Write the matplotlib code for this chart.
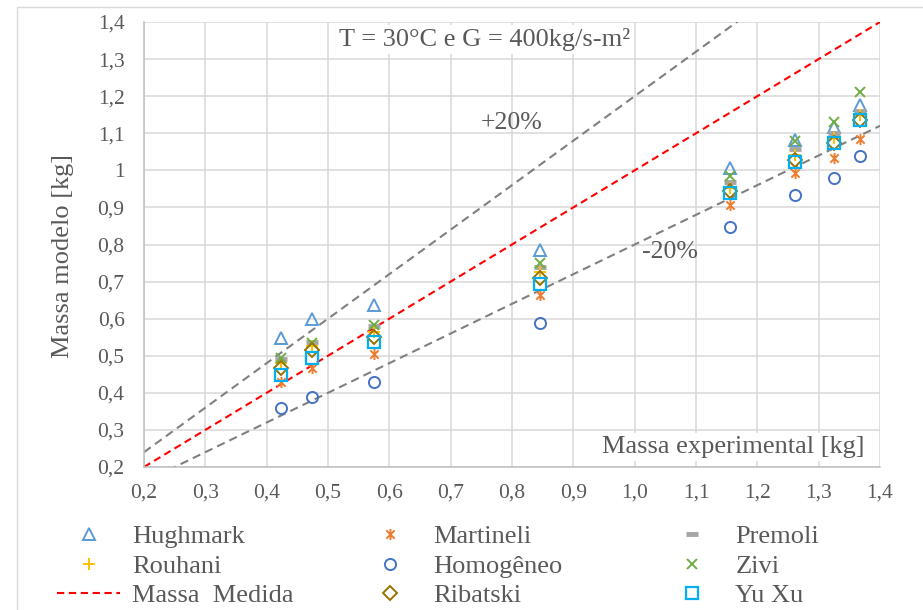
import matplotlib
matplotlib.use("Agg")
import matplotlib.pyplot as plt
from matplotlib.path import Path
from matplotlib.patches import Rectangle

# Measured (experimental) mass and the mass predicted by each void-fraction model [kg]
massa_exp = [0.423, 0.474, 0.575, 0.846, 1.155, 1.262, 1.325, 1.367]
hughmark = [0.548, 0.600, 0.638, 0.785, 1.006, 1.082, 1.118, 1.176]
martineli = [0.430, 0.468, 0.505, 0.664, 0.907, 0.992, 1.033, 1.085]
premoli = [0.492, 0.538, 0.580, 0.739, 0.969, 1.057, 1.102, 1.161]
rouhani = [0.480, 0.525, 0.565, 0.727, 0.952, 1.041, 1.086, 1.149]
homogeneo = [0.360, 0.390, 0.430, 0.588, 0.848, 0.934, 0.979, 1.040]
zivi = [0.494, 0.535, 0.582, 0.749, 0.985, 1.078, 1.131, 1.212]
ribatski = [0.468, 0.515, 0.550, 0.709, 0.943, 1.028, 1.075, 1.136]
yu_xu = [0.448, 0.495, 0.537, 0.693, 0.940, 1.023, 1.073, 1.136]

# Reference line y = x and the +/-20 % band
ref_x = [0.2, 1.4]
desvio = 0.20

xtick_vals = [0.2, 0.3, 0.4, 0.5, 0.6, 0.7, 0.8, 0.9, 1.0, 1.1, 1.2, 1.3, 1.4]
xtick_labels = ["0,2", "0,3", "0,4", "0,5", "0,6", "0,7", "0,8", "0,9", "1,0",
                "1,1", "1,2", "1,3", "1,4"]
ytick_vals = [0.2, 0.3, 0.4, 0.5, 0.6, 0.7, 0.8, 0.9, 1.0, 1.1, 1.2, 1.3, 1.4]
ytick_labels = ["0,2", "0,3", "0,4", "0,5", "0,6", "0,7", "0,8", "0,9", "1",
                "1,1", "1,2", "1,3", "1,4"]

plt.rcParams["font.family"] = ["Liberation Serif", "DejaVu Serif"]
TXT = "#595959"

fig = plt.figure(figsize=(9.23, 6.10), dpi=100)
ax = fig.add_axes([144 / 923, 1 - 467 / 610, 736 / 923, 445 / 610])

# Outer chart-area border
fig.patches.append(Rectangle((17 / 923, -0.1), 1.2, 1.1 - 7 / 610,
                             transform=fig.transFigure, fill=False,
                             edgecolor="#D9D9D9", lw=1.0, zorder=0))

# Asterisk marker: vertical stroke plus an X
ast = Path([(0, -1), (0, 1), (-0.75, -0.75), (0.75, 0.75), (-0.75, 0.75), (0.75, -0.75)],
           [Path.MOVETO, Path.LINETO, Path.MOVETO, Path.LINETO, Path.MOVETO, Path.LINETO])

mew = 1.4
h_hug, = ax.plot(massa_exp, hughmark, ls="none", marker="^", ms=8.5, mfc="none",
                 mec="#5B9BD5", mew=mew, label="Hughmark", zorder=3)
h_mar, = ax.plot(massa_exp, martineli, ls="none", marker=ast, ms=8, mfc="none",
                 mec="#ED7D31", mew=mew, label="Martineli", zorder=3)
h_pre, = ax.plot(massa_exp, premoli, ls="none", marker="_", ms=8, mec="#A5A5A5",
                 mew=3.5, label="Premoli", zorder=3)
h_rou, = ax.plot(massa_exp, rouhani, ls="none", marker="+", ms=8, mec="#FFC000",
                 mew=mew, label="Rouhani", zorder=3)
h_hom, = ax.plot(massa_exp, homogeneo, ls="none", marker="o", ms=8, mfc="none",
                 mec="#4472C4", mew=mew, label="Homogêneo", zorder=3)
h_ziv, = ax.plot(massa_exp, zivi, ls="none", marker="x", ms=7.5, mec="#70AD47",
                 mew=mew, label="Zivi", zorder=3)
h_rib, = ax.plot(massa_exp, ribatski, ls="none", marker="D", ms=7, mfc="none",
                 mec="#997300", mew=mew, label="Ribatski", zorder=3)
h_yux, = ax.plot(massa_exp, yu_xu, ls="none", marker="s", ms=9, mfc="none",
                 mec="#00B0F0", mew=1.6, label="Yu Xu", zorder=3)

ref_up = [v * (1 + desvio) for v in ref_x]
ref_dn = [v * (1 - desvio) for v in ref_x]
ax.plot(ref_x, ref_up, color="#808080", lw=1.5, dashes=(4, 2.5), zorder=2)
ax.plot(ref_x, ref_dn, color="#808080", lw=1.5, dashes=(4, 2.5), zorder=2)
h_ref, = ax.plot(ref_x, ref_x, color="#FF0000", lw=1.5, dashes=(3.5, 2.2),
                 label="Massa  Medida", zorder=2)

ax.set_xlim(0.2, 1.4)
ax.set_ylim(0.2, 1.4)
ax.set_xticks(xtick_vals)
ax.set_xticklabels(xtick_labels)
ax.set_yticks(ytick_vals)
ax.set_yticklabels(ytick_labels)
ax.tick_params(length=0, labelsize=15.5, labelcolor=TXT)
ax.tick_params(axis="y", pad=14)
ax.tick_params(axis="x", pad=12)
ax.grid(True, color="#D9D9D9", lw=1.1, zorder=0)
ax.set_axisbelow(True)
for side in ("top", "right"):
    ax.spines[side].set_visible(False)
for side in ("left", "bottom"):
    ax.spines[side].set_color("#BFBFBF")
    ax.spines[side].set_linewidth(1.1)

ax.text(-0.110, 0.474, "Massa modelo [kg]", rotation=90, ha="center", va="center",
        transform=ax.transAxes, fontsize=19, color=TXT)
ax.text(1.160, 0.254, "Massa experimental [kg]", ha="center", va="center",
        fontsize=19, color=TXT, zorder=4,
        bbox=dict(facecolor="white", edgecolor="none", pad=2))
ax.text(0.756, 1.352, "T = 30°C e G = 400kg/s-m²", ha="center", va="center",
        fontsize=19, color=TXT, zorder=4,
        bbox=dict(facecolor="white", edgecolor="none", pad=2))
ax.text(0.80, 1.128, "+20%", ha="center", va="center", fontsize=18.5, color=TXT)
ax.text(1.058, 0.780, "-20%", ha="center", va="center", fontsize=18.5, color=TXT)

# Legend laid out as three fixed-width columns below the plot
columns = [[h_hug, h_rou, h_ref], [h_mar, h_hom, h_rib], [h_pre, h_ziv, h_yux]]
col_x = [57, 358, 660]
for hs, x0 in zip(columns, col_x):
    fig.legend(handles=hs, labels=[h.get_label() for h in hs],
               loc="upper left", bbox_to_anchor=(x0 / 923, 1 - 525 / 610),
               frameon=False, fontsize=19, labelcolor=TXT, handlelength=2.4,
               handletextpad=0.45, borderpad=0, borderaxespad=0,
               labelspacing=0.22, numpoints=1)

fig.savefig("out.png", dpi=100)
